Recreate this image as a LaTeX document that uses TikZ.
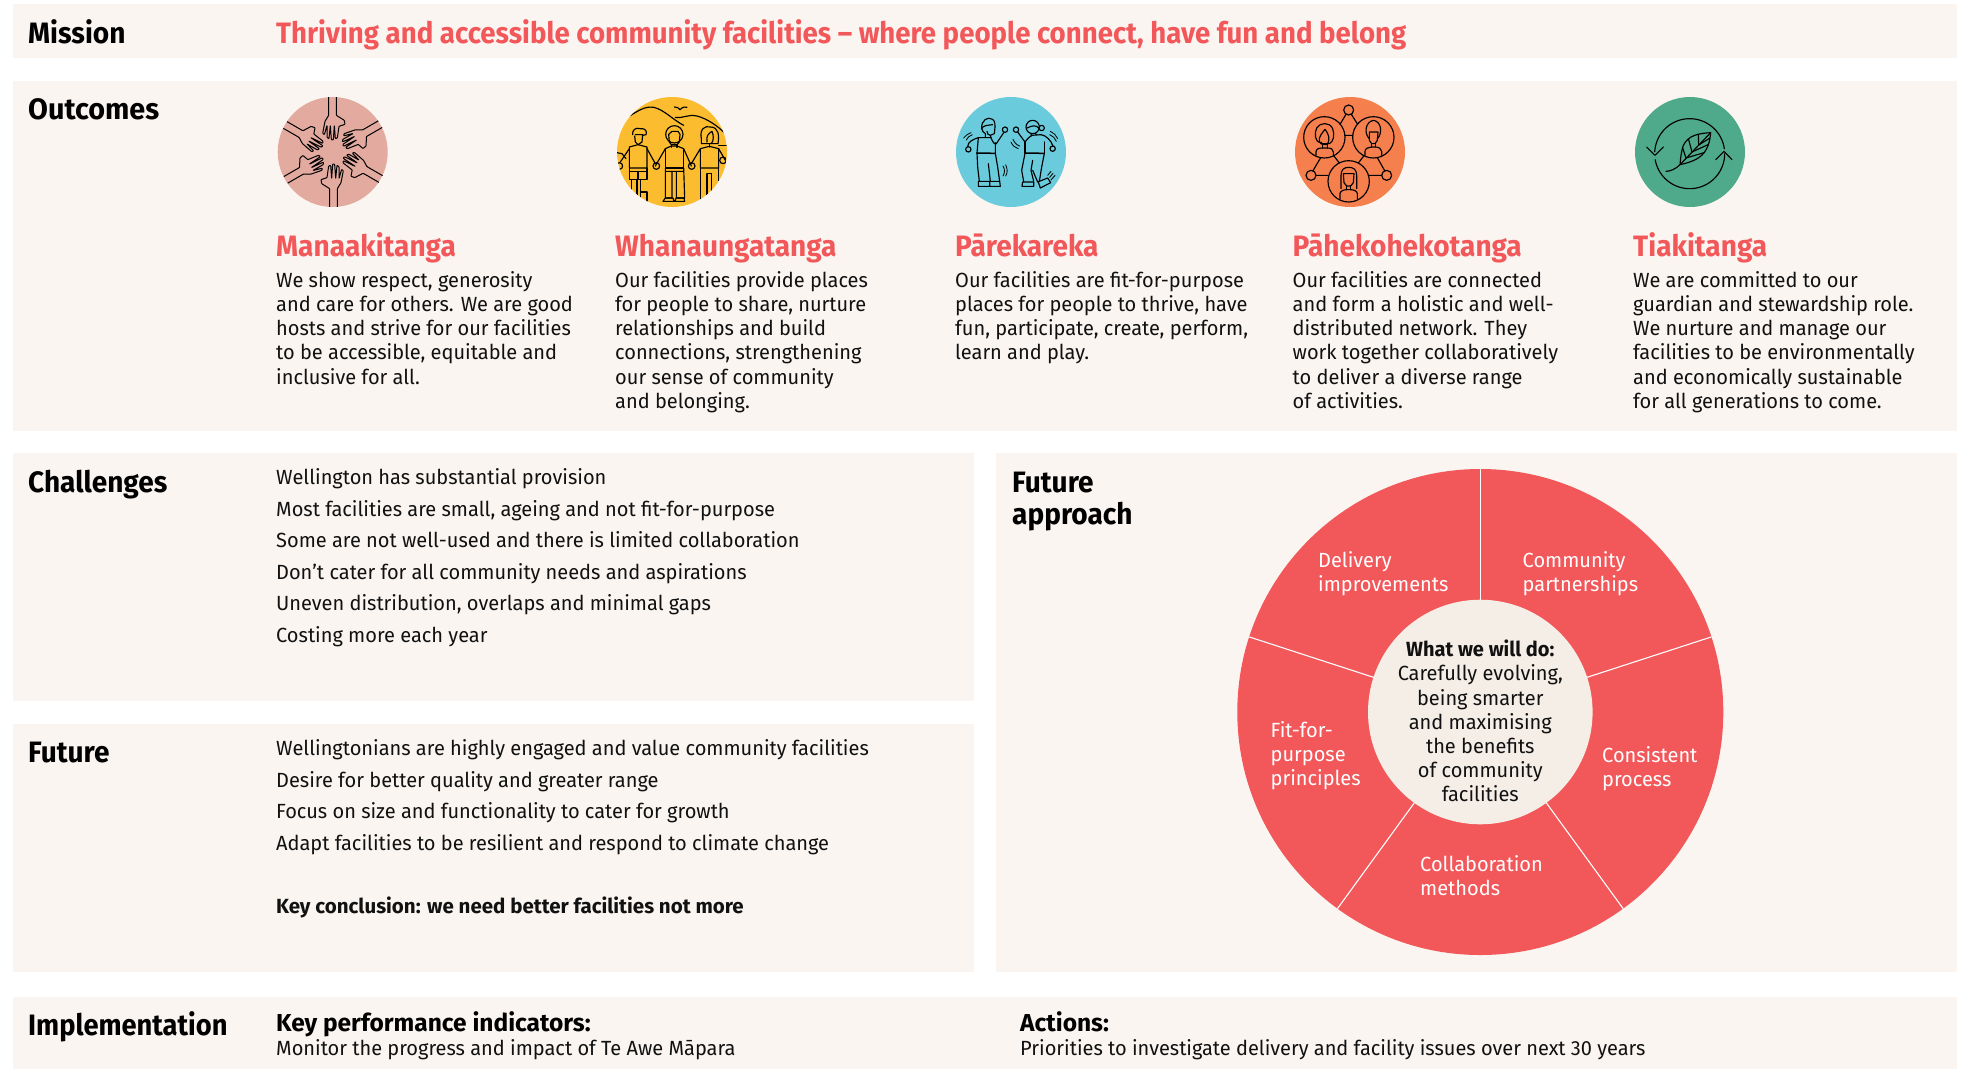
\documentclass[tikz,border=0pt]{standalone}
\usepackage{fontspec}
\setmainfont[FakeStretch=0.975,BoldFeatures={FakeStretch=0.975}]{Fira Sans}
\newfontfamily\headfont[BoldFeatures={FakeStretch=0.95}]{Fira Sans}
\newfontfamily\outfont[BoldFeatures={FakeStretch=0.975}]{Fira Sans}
\newfontfamily\tightfont[BoldFeatures={FakeStretch=0.925}]{Fira Sans}
\newfontfamily\missionfont[BoldFeatures={FakeStretch=0.937}]{Fira Sans}
\newfontfamily\keyfont[BoldFeatures={FakeStretch=1.0}]{Fira Sans}
\definecolor{band}{HTML}{FAF5F1}
\definecolor{coral}{HTML}{F2575A}
\definecolor{hub}{HTML}{F5EEE7}
\definecolor{ink}{HTML}{111111}
\definecolor{cpink}{HTML}{E3AAA0}
\definecolor{cyellow}{HTML}{FBBC2F}
\definecolor{cblue}{HTML}{69CBDC}
\definecolor{corange}{HTML}{F57F4D}
\definecolor{cgreen}{HTML}{4FAA8B}
\tikzset{
 x=1pt,y=-1pt,
 panel/.style={fill=band,draw=none},
 head/.style={anchor=base west,inner sep=0pt,font=\fontsize{29.5}{31.5}\headfont\selectfont\bfseries,text=black},
 body/.style={anchor=north west,inner sep=0pt,font=\fontsize{20.5}{24.1}\selectfont,text=ink,align=left},
 lineitem/.style={anchor=base west,inner sep=0pt,font=\fontsize{20.5}{24}\selectfont,text=ink},
 keyitem/.style={lineitem,font=\fontsize{20.5}{24}\keyfont\selectfont\bfseries},
 title/.style={anchor=base west,inner sep=0pt,font=\fontsize{29.5}{31.5}\headfont\selectfont\bfseries,text=coral},
 subhead/.style={anchor=base west,inner sep=0pt,font=\fontsize{24.5}{26}\keyfont\selectfont\bfseries,text=black},
 wedge/.style={body,text=white},
 icon/.style={shift={#1},x=0.33333pt,y=-0.33333pt,draw=black,line width=1.15pt,line join=round,line cap=round},
 fine/.style={line width=0.8pt},
}
\begin{document}
\begin{tikzpicture}
\useasboundingbox (0,0) rectangle (1966,1069);
\fill[white] (0,0) rectangle (1966,1069);
\fill[panel] (13,4) rectangle (1957,58);
\fill[panel] (13,81) rectangle (1957,431);
\fill[panel] (13,453) rectangle (974,701);
\fill[panel] (13,724) rectangle (974,971.5);
\fill[panel] (996,453) rectangle (1957,971.5);
\fill[panel] (13,997) rectangle (1957,1069);
\node[head] (mission) at (28,43) {Mission};
\node[title,font=\fontsize{29.5}{31.5}\missionfont\selectfont\bfseries] (missiontext) at (276,43) {Thriving and accessible community facilities – where people connect, have fun and belong};
\node[head,font=\fontsize{29.5}{31.5}\outfont\selectfont\bfseries] (outcomes) at (28,119) {Outcomes};
% circles
\fill[cpink] (332.7,152) circle (55);
\fill[cyellow] (672,152) circle (55);
\fill[cblue] (1011,152) circle (55);
\fill[corange] (1350,152) circle (55);
\fill[cgreen] (1690,152) circle (55);
% icon 1: hands
\begin{scope}[icon={(273,92)}]
\clip (180,180) circle (165);
\foreach \a in {0,60,120,180,240,300}
 \draw[rotate around={\a:(180,180)},rounded corners=0.6pt,line width=1pt] (167,10)--(167,70)--(156,88)--(149,124)--(154,128)--(162,100)--(162,136)--(168,140)--(172,100)--(175,143)--(181,144)--(184,100)--(187,140)--(193,138)--(198,103)--(216,97)--(214,85)--(190,70)--(190,10);
\end{scope}
% icon 2: people
\begin{scope}[icon={(612,92)}]
\clip (180,180) circle (165);
\draw (48,75) .. controls (80,55) and (100,42) .. (125,46) .. controls (155,52) and (185,85) .. (215,100);
\draw (190,76) .. controls (215,80) and (225,66) .. (255,72) .. controls (285,80) and (315,100) .. (340,125);
\draw (187,45) .. controls (195,44) and (200,48) .. (204,53) .. controls (208,46) and (215,44) .. (225,46);
% middle person
\draw (187,127) circle (26);
\draw (172,150)--(170,127)--(180,118)--(198,118)--(204,127)--(202,150)--(195,158)--(178,158)--cycle;
\draw (178,158)--(178,166) (195,158)--(195,166);
\draw (130,222)--(160,170)--(178,162)--(195,162)--(215,170)--(238,222);
\draw (160,170)--(160,228)--(215,228)--(215,170);
\draw (160,228)--(160,318) (215,228)--(218,318) (160,238)--(215,238) (180,238)--(180,318)--(160,318) (193,238)--(193,318)--(218,318);
\draw (153,328)--(186,328)--(183,318)--(160,318)--cycle (189,328)--(218,328)--(216,318)--(192,318)--cycle;
\draw (133,222) circle (10) (239,222) circle (10);
% left person
\draw (62,128)..controls(60,115)and(70,105)..(85,110)..controls(100,108)and(106,118)..(102,128)--(92,130) (68,132)--(70,150)--(78,158)--(90,150)--(92,128)--(70,128);
\draw (78,158)--(52,165)--(52,228)--(105,228)--(105,165)--(78,158);
\draw (105,170)--(130,215) (52,170)--(25,210);
\draw (52,228)--(52,262)--(105,262)--(105,228) (52,238)--(105,238) (78,238)--(78,262);
\draw (58,262)--(58,340) (75,262)--(75,340) (85,262)--(85,300)--(105,300)--(105,340) (85,300)--(85,340);
\draw (22,222) circle (10);
\draw (15,182)--(30,185)--(42,200);
% right person
\draw (268,140)..controls(262,110)and(280,100)..(295,105)..controls(320,105)and(322,130)..(318,155)--(268,155)--cycle;
\draw (285,150)..controls(282,130)and(290,125)..(300,118)..controls(305,130)and(306,145)..(298,155);
\draw (292,155)--(292,165);
\draw (265,170)--(292,163)--(320,170);
\draw (265,170)--(238,215) (265,170)--(265,228)--(320,228)--(320,170)--(340,205);
\draw (265,228)--(265,340) (320,228)--(320,340) (285,245)--(285,340) (298,245)--(298,340) (285,245)--(298,245);
\draw (333,205) circle (10);
\draw (320,160)--(345,160);
\end{scope}
% icon 3: dancers
\begin{scope}[icon={(951,92)}]
\draw (92,110)..controls(90,85)and(110,72)..(125,82)..controls(135,90)and(130,100)..(132,105)--(130,125)--(118,130)..controls(112,130)and(108,125)..(108,118);
\draw (92,110)..controls(95,100)and(110,100)..(125,98);
\draw (92,110)..controls(94,118)and(98,122)..(103,125)--(103,135);
\draw (118,130)--(120,137);
\draw (52,172) circle (8) (162,113) circle (8);
\draw (50,164)..controls(50,150)and(65,142)..(82,137)--(120,137)..controls(125,150)and(130,158)..(136,155)--(158,122);
\draw (82,137)--(78,183) (133,152)--(133,183);
\draw[line width=1.5pt] (78,183)--(133,184);
\draw (78,183)--(80,225)--(85,268) (133,184)--(140,225)--(146,268) (112,215)--(118,268);
\draw (82,268)--(116,268)--(116,283)--(82,283)--cycle (116,268)--(146,268)--(148,283)--(116,283);
\draw[fine] (156,222)..controls(162,232)and(162,242)..(156,252) (164,218)..controls(170,232)and(170,242)..(164,252);
\draw[fine] (38,138)..controls(42,132)and(50,126)..(60,122) (46,144)..controls(48,138)and(56,130)..(64,128);
% right dancer
\draw (245,105) circle (20);
\draw (228,108)..controls(245,100)and(255,98)..(265,110);
\draw (272,108) circle (8);
\draw (240,125)--(242,132) (252,125)--(258,128);
\draw (195,113) circle (8) (305,170) circle (8);
\draw (200,120)--(222,150)..controls(230,140)and(235,134)..(242,130)--(270,128)..controls(285,130)and(300,145)..(306,162);
\draw (222,150)--(222,183) (280,150)--(280,183);
\draw[line width=1.5pt] (222,183)--(280,184);
\draw (222,184)--(212,235)--(218,268) (280,184)--(272,225)--(265,268) (245,205)--(240,235)--(248,268);
\draw (215,270)--(248,270)--(248,283)--(213,283)--cycle;
\draw (245,235)--(260,270)--(290,258)--(299,272)--(268,288)--(262,270);
\draw[fine] (180,150)..controls(184,160)and(192,168)..(202,170) (186,142)..controls(190,152)and(198,160)..(206,162);
\draw[fine] (298,118)..controls(308,122)and(316,130)..(320,140) (296,128)..controls(306,132)and(312,138)..(316,148);
\draw[fine] (290,250)--(300,238) (296,256)--(306,244) (300,264)--(312,250);
\end{scope}
% icon 4: network
\begin{scope}[icon={(1290,92)}]
\draw (103,136) circle (62) (250,136) circle (62) (176,268) circle (62);
\draw (176,54) circle (15) (63,250) circle (15) (290,250) circle (15);
\draw (168,67)--(150,97) (184,67)--(203,97) (165,130)--(188,130);
\draw (69,236)--(92,197) (78,250)--(114,250) (284,236)--(262,197) (238,250)--(275,250) (131,191)--(148,213) (222,191)--(205,213);
% person A
\draw (92,153)..controls(75,150)and(72,125)..(80,108)..controls(90,90)and(120,90)..(128,110)..controls(135,130)and(130,150)..(118,155)--(92,155);
\draw (88,150)..controls(85,135)and(95,125)..(105,112)..controls(115,125)and(122,140)..(112,158)--(97,158)--(93,150);
\draw (98,158)--(98,168) (112,158)--(112,168);
\draw (78,190)--(78,180)..controls(78,170)and(88,168)..(98,168)--(112,168)..controls(124,168)and(130,172)..(130,180)--(130,190);
% person B
\draw (238,140)..controls(222,125)and(225,90)..(250,85)..controls(275,88)and(278,125)..(262,140);
\draw (238,120)--(264,120)--(262,145)--(255,155)--(245,155)--(238,145)--cycle;
\draw (244,155)--(244,165) (256,155)--(256,165);
\draw (225,190)--(225,178)..controls(225,170)and(235,165)..(244,165)--(256,165)..controls(266,165)and(275,170)..(275,178)--(275,190);
% person C
\draw (153,290)--(153,250)..controls(153,232)and(163,226)..(176,226)..controls(190,226)and(200,232)..(200,250)--(200,290);
\draw (160,245)--(192,245)--(190,272)--(182,282)--(170,282)--(162,272)--cycle;
\draw (170,282)--(170,293) (182,282)--(182,293);
\draw (150,322)--(150,305)..controls(150,298)and(160,293)..(170,293)--(182,293)..controls(192,293)and(202,298)..(202,305)--(202,322);
\end{scope}
% icon 5: cycle and leaf
\begin{scope}[icon={(1630,92)}]
\draw plot[domain=8:177,samples=50] ({179+105*cos(\x)},{185-105*sin(\x)});
\draw plot[domain=190:360,samples=50] ({179+105*cos(\x)},{185-105*sin(\x)});
\draw (50,165)--(75,190)--(100,165) (257,203)--(282,178)--(306,203);
\draw (242,122)..controls(205,124)and(175,130)..(160,160)..controls(152,185)and(152,200)..(150,218)..controls(185,210)and(215,200)..(230,170)..controls(238,155)and(240,140)..(242,122);
\draw (242,122)--(150,218)..controls(138,230)and(122,238)..(108,238);
\draw (168,198)--(158,168) (186,180)--(176,143) (206,159)--(205,130);
\draw (168,198)--(222,182) (186,180)--(234,158) (206,159)--(240,138);
\end{scope}
% outcome titles and text
\node[title] (t1) at (276,256) {Manaakitanga};
\node[title] (t2) at (615,256) {Whanaungatanga};
\node[title] (t3) at (955,256) {Pārekareka};
\node[title] (t4) at (1292.5,256) {Pāhekohekotanga};
\node[title] (t5) at (1633,256) {Tiakitanga};
\node[body] (b1) at (276,271.5) {We show respect, generosity\\and care for others. We are good\\hosts and strive for our facilities\\to be accessible, equitable and\\inclusive for all.};
\node[body] (b2) at (615,271.5) {Our facilities provide places\\for people to share, nurture\\relationships and build\\connections, strengthening\\our sense of community\\and belonging.};
\node[body] (b3) at (955,271.5) {Our facilities are fit-for-purpose\\places for people to thrive, have\\fun, participate, create, perform,\\learn and play.};
\node[body] (b4) at (1292.5,271.5) {Our facilities are connected\\and form a holistic and well-\\distributed network. They\\work together collaboratively\\to deliver a diverse range\\of activities.};
\node[body] (b5) at (1633,271.5) {We are committed to our\\guardian and stewardship role.\\We nurture and manage our\\facilities to be environmentally\\and economically sustainable\\for all generations to come.};
% challenges
\node[head] (ch) at (28,492) {Challenges};
\node[lineitem] (c1) at (276,484) {Wellington has substantial provision};
\node[lineitem] (c2) at (276,516) {Most facilities are small, ageing and not fit-for-purpose};
\node[lineitem] (c3) at (276,547.6) {Some are not well-used and there is limited collaboration};
\node[lineitem] (c4) at (276,579.2) {Don’t cater for all community needs and aspirations};
\node[lineitem] (c5) at (276,610.8) {Uneven distribution, overlaps and minimal gaps};
\node[lineitem] (c6) at (276,642) {Costing more each year};
% future
\node[head] (fu) at (28,762) {Future};
\node[lineitem] (f1) at (276,755) {Wellingtonians are highly engaged and value community facilities};
\node[lineitem] (f2) at (276,787) {Desire for better quality and greater range};
\node[lineitem] (f3) at (276,818.5) {Focus on size and functionality to cater for growth};
\node[lineitem] (f4) at (276,850.5) {Adapt facilities to be resilient and respond to climate change};
\node[keyitem] (f5) at (276,913) {Key conclusion: we need better facilities not more};
% future approach
\node[head] (fa1) at (1012,492) {Future};
\node[head] (fa2) at (1012,524) {approach};
% wheel
\fill[coral] (1480.3,712) circle (243);
\foreach \a in {90,18,162,234,306}
 \draw[white,line width=1.1pt] ({1480.3+110*cos(\a)},{712-110*sin(\a)}) -- ({1480.3+243*cos(\a)},{712-243*sin(\a)});
\node[circle,fill=hub,minimum size=224.6pt,inner sep=0pt] (hubdisc) at (1480.3,712) {};
\node[body,anchor=north,align=center] (hubtext) at (1480.3,640) {\textbf{What we will do:}\\Carefully evolving,\\being smarter\\and maximising\\the benefits\\of community\\facilities};
\node[wedge] (w1) at (1318,551.5) {Delivery\\improvements};
\node[wedge] (w2) at (1522.5,551.5) {Community\\partnerships};
\node[wedge] (w3) at (1602,746.5) {Consistent\\process};
\node[wedge] (w4) at (1420,855) {Collaboration\\methods};
\node[wedge] (w5) at (1270.5,721.5) {Fit-for-\\purpose\\principles};
% implementation
\node[head,font=\fontsize{29.5}{31.5}\tightfont\selectfont\bfseries] (im) at (28,1035) {Implementation};
\node[subhead] (k1) at (276,1031) {Key performance indicators:};
\node[lineitem] (k2) at (276,1055) {Monitor the progress and impact of Te Awe Māpara};
\node[subhead] (a1) at (1020,1031) {Actions:};
\node[lineitem] (a2) at (1020,1055) {Priorities to investigate delivery and facility issues over next 30 years};
\end{tikzpicture}
\end{document}
